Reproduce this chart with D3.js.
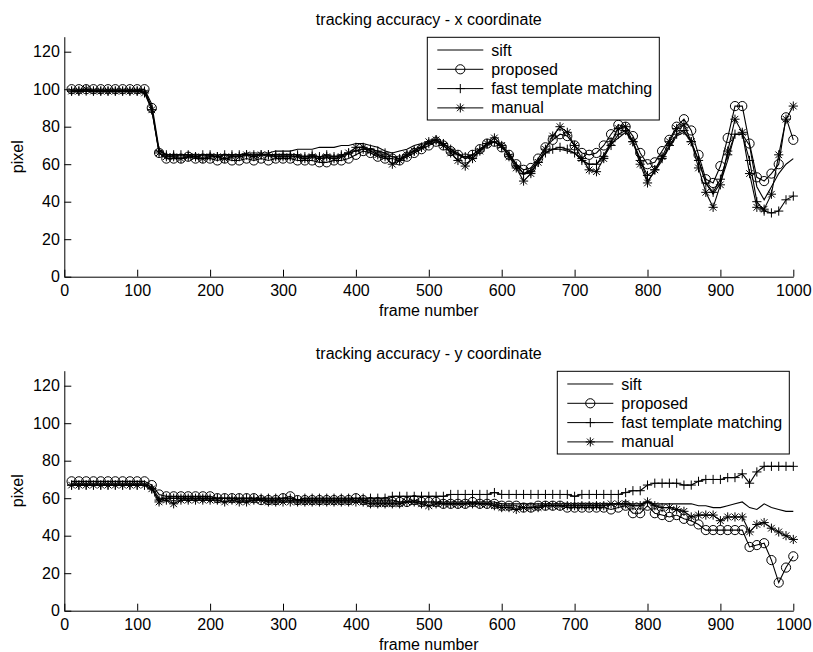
<!DOCTYPE html>
<html>
<head>
<meta charset="utf-8">
<script src="https://cdn.jsdelivr.net/npm/d3@7"></script>
<style>
html, body { margin: 0; padding: 0; background: #fff; }
svg { display: block; }
text { font-family: "Liberation Sans", Arial, sans-serif; fill: #000; }
</style>
</head>
<body>
<svg id="chart" width="813" height="652"></svg>
<script>
// ---- data ----
const frames = [10,20,30,40,50,60,70,80,90,100,110,120,130,140,150,160,170,180,190,200,
  210,220,230,240,250,260,270,280,290,300,310,320,330,340,350,360,370,380,390,400,
  410,420,430,440,450,460,470,480,490,500,510,520,530,540,550,560,570,580,590,600,
  610,620,630,640,650,660,670,680,690,700,710,720,730,740,750,760,770,780,790,800,
  810,820,830,840,850,860,870,880,890,900,910,920,930,940,950,960,970,980,990,1000];

const seriesNames = ["sift", "proposed", "fast template matching", "manual"];

// x coordinate
const xSift = [99,99,99,99,99,99,99,99,99,99,100,92,68,
  65,65,65,65,65,65,65,65,65,65,65,66,66,66,66,67,67,
  67,68,68,68,69,69,69,70,70,71,
  71,70,69,67,66,67,68,70,71,72,
  73,71,68,66,63,64,67,70,72,70,
  66,60,55,57,62,66,68,68,67,66,
  62,60,60,65,71,74,77,72,63,51,
  56,62,69,75,77,72,62,50,44,50,
  62,76,76,70,48,41,48,55,60,63];
const xProposed = [100,100,100,100,100,100,100,100,100,100,100,90,66,
  63,63,63,64,63,63,63,62,63,62,62,63,62,63,62,63,63,
  63,62,62,62,61,61,62,62,63,65,
  67,66,64,63,63,62,64,66,68,70,
  72,70,67,65,63,65,68,71,72,69,
  65,60,57,58,63,69,73,76,75,70,
  66,65,66,70,76,81,80,75,66,60,
  61,67,73,80,84,78,65,52,50,59,
  74,91,91,71,53,51,55,60,85,73];
const xFast = [99,99,99,99,99,99,99,99,99,99,99,89,67,
  65,65,65,65,64,65,65,64,65,65,65,65,65,65,65,65,65,
  65,65,64,65,64,65,64,65,66,67,
  68,68,67,66,64,63,65,67,69,71,
  73,71,68,65,64,65,68,71,72,69,
  65,59,55,56,61,66,68,69,68,66,
  62,60,60,64,70,76,78,72,62,54,
  57,63,70,76,78,72,62,50,45,52,
  65,76,76,62,40,35,34,35,41,43];
const xManual = [99,99,100,99,99,99,99,99,99,99,98,89,66,
  64,64,63,64,64,63,64,64,63,64,64,65,64,65,65,64,64,
  64,64,63,64,63,64,63,64,66,69,
  69,67,65,64,60,62,65,67,69,72,
  73,70,66,62,59,63,67,71,74,70,
  64,58,51,55,61,68,75,80,77,70,
  63,57,56,63,72,79,80,72,60,50,
  57,64,72,79,81,72,58,45,37,49,
  67,84,77,55,37,36,44,65,84,91];

// y coordinate
const ySift = [68,68,68,68,68,68,68,68,68,68,68,66,60,
  60,60,60,60,60,60,60,60,60,60,59,59,59,59,59,59,59,
  59,59,59,59,59,59,59,59,59,59,
  59,59,59,59,59,58,58,58,58,58,
  58,58,58,58,58,58,58,58,58,57,
  57,57,57,57,57,57,57,57,57,57,
  57,57,57,57,57,57,57,57,57,58,
  57,57,57,57,57,57,56,56,55,55,
  56,57,58,55,54,57,55,54,53,53];
const yProposed = [69,69,69,69,69,69,69,69,69,69,69,67,62,
  61,61,61,61,61,61,61,60,60,60,60,60,60,59,59,59,60,
  61,59,59,59,59,59,59,59,59,60,
  59,58,58,58,58,58,58,59,58,58,
  58,57,57,57,57,58,57,57,57,56,
  56,56,55,55,56,56,56,56,55,55,
  55,55,55,55,54,55,56,52,52,56,
  52,51,50,51,49,48,46,43,43,43,
  43,43,43,34,35,36,27,15,23,29];
const yFast = [67,67,67,67,67,67,67,67,67,67,67,65,59,
  60,60,60,60,60,60,60,60,60,60,60,60,60,60,60,60,60,
  60,59,60,60,60,60,60,60,60,60,
  60,60,60,60,61,61,61,61,61,61,
  61,61,62,62,62,62,62,62,63,62,
  62,62,62,62,62,62,62,62,62,61,
  62,62,62,62,62,62,63,64,64,67,
  68,68,68,68,67,67,69,70,70,70,
  71,71,73,68,74,77,77,77,77,77];
const yManual = [67,67,67,67,67,67,67,67,67,67,67,65,58,
  59,57,59,59,59,59,59,59,58,59,58,58,59,59,58,58,58,
  58,58,58,58,58,58,58,58,58,58,
  58,57,57,57,57,57,58,58,57,56,
  57,57,57,57,57,57,57,57,56,55,
  55,54,55,55,55,56,56,56,56,56,
  56,56,56,56,57,57,57,56,56,58,
  56,55,55,54,53,50,51,51,51,48,
  50,50,50,42,46,47,44,42,40,38];

const xTicks = [0,100,200,300,400,500,600,700,800,900,1000];
const yTicks = [0,20,40,60,80,100,120];
const titles = ["tracking accuracy - x coordinate", "tracking accuracy - y coordinate"];
const xLabel = "frame number";
const yLabel = "pixel";

// ---- drawing ----
const svg = d3.select("#chart");
const markerTypes = ["none", "circle", "plus", "star"];
const S = 4.6;
function markerPath(type) {
  const d = S * 0.72;
  if (type === "plus") return `M${-S},0L${S},0M0,${-S}L0,${S}`;
  if (type === "star") return `M${-S},0L${S},0M0,${-S}L0,${S}M${-d},${-d}L${d},${d}M${-d},${d}L${d},${-d}`;
  return null;
}
function drawMarker(sel, type) {
  if (type === "circle") {
    sel.append("circle").attr("r", S).attr("fill", "none").attr("stroke", "#000").attr("stroke-width", 1);
  } else if (type !== "none") {
    sel.append("path").attr("d", markerPath(type)).attr("fill", "none").attr("stroke", "#000").attr("stroke-width", 1);
  }
}

function panel(offsetY, title, data, legendX) {
  const g = svg.append("g").attr("transform", `translate(0,${offsetY})`);
  const x = d3.scaleLinear().domain([0, 1000]).range([64.3, 793.3]);
  const y = d3.scaleLinear().domain([0, 128]).range([276.7, 36.7]);

  // series
  const line = d3.line().x((d, i) => x(frames[i])).y(d => y(d));
  data.forEach((vals, si) => {
    g.append("path").datum(vals).attr("d", line)
      .attr("fill", "none").attr("stroke", "#000").attr("stroke-width", 1.1);
    const type = markerTypes[si];
    if (type !== "none") {
      vals.forEach((v, i) => {
        const m = g.append("g").attr("transform", `translate(${x(frames[i])},${y(v)})`);
        drawMarker(m, type);
      });
    }
  });

  // axes
  const fmt = d3.format("d");
  const xa = g.append("g").attr("transform", `translate(0,${y(0)})`)
    .call(d3.axisBottom(x).tickValues(xTicks).tickFormat(fmt).tickSizeInner(-7).tickSizeOuter(0).tickPadding(8));
  const ya = g.append("g").attr("transform", `translate(${x(0)},0)`)
    .call(d3.axisLeft(y).tickValues(yTicks).tickFormat(fmt).tickSizeInner(-7).tickSizeOuter(0).tickPadding(4.5));
  [xa, ya].forEach(a => {
    a.selectAll("text").style("font-family", '"Liberation Sans", Arial, sans-serif').style("font-size", "16px").attr("fill", "#000");
    a.selectAll("line").attr("stroke", "#000");
    a.select(".domain").attr("stroke", "#000");
  });

  // labels
  g.append("text").attr("x", (x(0) + x(1000)) / 2).attr("y", 24.5)
    .attr("text-anchor", "middle").style("font-size", "16px").text(title);
  g.append("text").attr("x", (x(0) + x(1000)) / 2).attr("y", 316)
    .attr("text-anchor", "middle").style("font-size", "16px").text(xLabel);
  g.append("text").attr("transform", `translate(23,${(y(0) + y(128)) / 2}) rotate(-90)`)
    .attr("text-anchor", "middle").style("font-size", "16px").text(yLabel);

  // legend
  const lg = g.append("g").attr("transform", `translate(${legendX},37.3)`);
  lg.append("rect").attr("width", 232).attr("height", 82.7)
    .attr("fill", "#fff").attr("stroke", "#000").attr("stroke-width", 1);
  seriesNames.forEach((name, i) => {
    const cy = 12.7 + i * 19.3;
    lg.append("line").attr("x1", 10).attr("x2", 56).attr("y1", cy).attr("y2", cy)
      .attr("stroke", "#000").attr("stroke-width", 1);
    drawMarker(lg.append("g").attr("transform", `translate(33,${cy})`), markerTypes[i]);
    lg.append("text").attr("x", 64).attr("y", cy).attr("dy", "0.35em")
      .style("font-size", "16px").text(name);
  });
}

panel(0, titles[0], [xSift, xProposed, xFast, xManual], 427.3);
panel(334, titles[1], [ySift, yProposed, yFast, yManual], 557.3);
</script>
</body>
</html>
